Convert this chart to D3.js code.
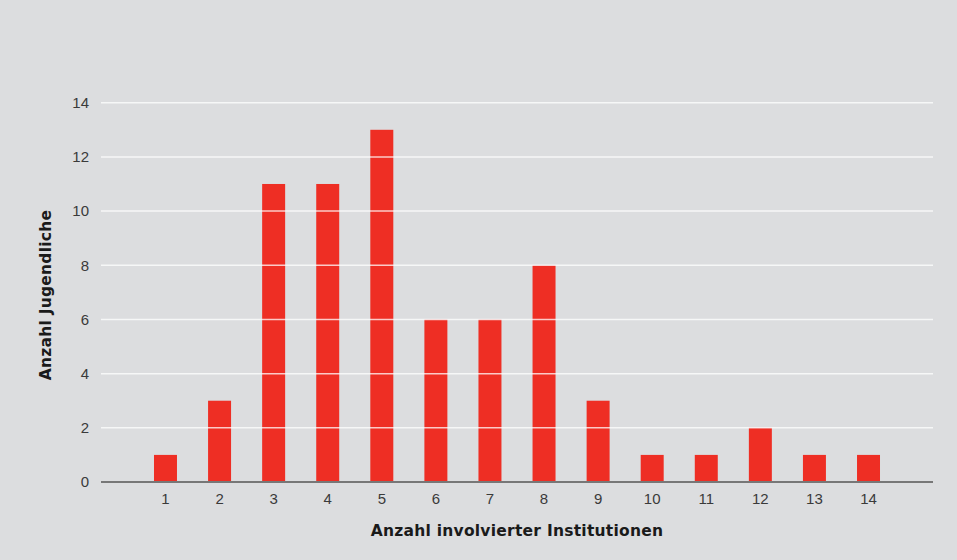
<html>
<head>
<style type="text/css">
	body { margin: 0; background: #dcdddf; }
	.chart text { font-family: "Liberation Sans", Arial, sans-serif; }
	.tick text { fill: #3a3a3a; font-size: 15px; }
	.chart text.title { font-family: "DejaVu Sans", sans-serif; font-weight: bold; font-size: 15.5px; letter-spacing: 0.25px; fill: #1a1a1a; }
</style>
</head>
<body>
<svg class="chart" width=957 height=560></svg>
<script src='https://d3js.org/d3.v7.min.js'></script>
<script>
// number of institutions involved vs number of young people
var institutions = ["1","2","3","4","5","6","7","8","9","10","11","12","13","14"];
var youths = [1, 3, 11, 11, 13, 6, 6, 8, 3, 1, 1, 2, 1, 1];
var yTicks = [0, 2, 4, 6, 8, 10, 12, 14];

var svg = d3.select("svg");

var xScale = d3.scaleBand()
	.domain(institutions)
	.range([101, 933])
	.paddingInner(0.575)
	.paddingOuter(0.98);

var yScale = d3.scaleLinear()
	.domain([0, 14])
	.range([482, 102.7]);

//bars
svg.append("g")
	.selectAll("rect")
	.data(youths)
	.enter()
	.append("rect")
	.attr("x", function(d, i) { return xScale(institutions[i]); })
	.attr("y", function(d) { return yScale(d); })
	.attr("width", xScale.bandwidth())
	.attr("height", function(d) { return yScale(0) - yScale(d); })
	.style("fill", "#ee2e24");

//gridlines, drawn over the bars
svg.append("g")
	.selectAll("line")
	.data(yTicks.filter(function(d) { return d > 0; }))
	.enter()
	.append("line")
	.attr("x1", 101)
	.attr("x2", 933)
	.attr("y1", function(d) { return yScale(d); })
	.attr("y2", function(d) { return yScale(d); })
	.style("stroke", "white")
	.style("stroke-opacity", 0.75)
	.style("stroke-width", 1.5);

//baseline
svg.append("line")
	.attr("x1", 101)
	.attr("x2", 933)
	.attr("y1", yScale(0))
	.attr("y2", yScale(0))
	.style("stroke", "#777")
	.style("stroke-width", 2);

//axes
svg.append("g")
	.attr("transform", "translate(89,0)")
	.call(d3.axisLeft(yScale).tickValues(yTicks).tickSize(0).tickPadding(0))
	.call(function(g) { g.select(".domain").remove(); });

svg.append("g")
	.attr("transform", "translate(0,490)")
	.call(d3.axisBottom(xScale).tickSize(0).tickPadding(3))
	.call(function(g) { g.select(".domain").remove(); });

//axis titles
svg.append("text")
	.attr("class", "title")
	.attr("x", 517)
	.attr("y", 536)
	.style("text-anchor", "middle")
	.text("Anzahl involvierter Institutionen");

svg.append("text")
	.attr("class", "title")
	.attr("transform", "translate(51,295) rotate(-90)")
	.style("text-anchor", "middle")
	.text("Anzahl Jugendliche");
</script>
</body>
</html>
